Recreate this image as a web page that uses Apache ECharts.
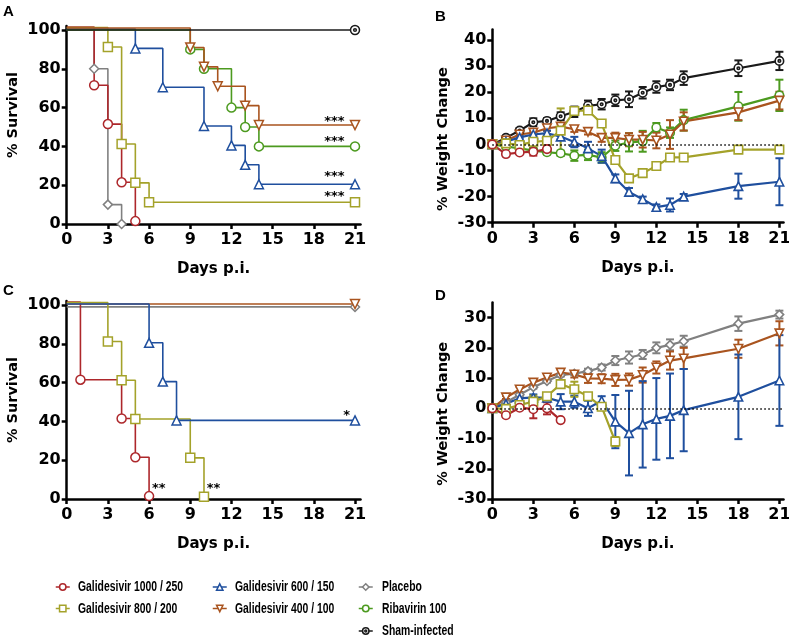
<!DOCTYPE html>
<html><head><meta charset="utf-8">
<script src="https://cdn.jsdelivr.net/npm/echarts@6/dist/echarts.min.js"></script>
<style>html,body{margin:0;padding:0;background:#fff}#c{width:789px;height:639px}</style>
</head><body><div id="c"></div>
<script>
// ---------------- data ----------------
const seriesNames = ['Galidesivir 1000 / 250','Galidesivir 800 / 200','Galidesivir 600 / 150','Galidesivir 400 / 100','Placebo','Ribavirin 100','Sham-infected'];
const xTicks = [0,3,6,9,12,15,18,21];
const survTicks = [0,20,40,60,80,100];
const weightTicksB = [-30,-20,-10,0,10,20,30,40];
const weightTicksD = [-30,-20,-10,0,10,20,30];
const weightDays = [0,1,2,3,4,5,6,7,8,9,10,11,12,13,14,18,21];

// Panel A survival (days of event, % survival)
const aG1000Days = [0,2,3,4,5];            const aG1000Surv = [101.5,71.5,51.5,21.5,1.5];
const aG800Days  = [0,3,4,5,6,21];         const aG800Surv  = [101.2,91.2,41.2,21.2,11.2,11.2];
const aG600Days  = [0,5,7,10,12,13,14,21]; const aG600Surv  = [100.5,90.5,70.5,50.5,40.5,30.5,20.5,20.5];
const aG400Days  = [0,9,10,11,13,14,21];   const aG400Surv  = [101,91,81,71,61,51,51];
const aPlacDays  = [0,2,3,4];              const aPlacSurv  = [100,80,10,0];
const aRibaDays  = [0,9,10,12,13,14,21];   const aRibaSurv  = [100,90,80,60,50,40,40];
const aShamDays  = [0,21];                 const aShamSurv  = [100,100];

// Panel C survival
const cG1000Days = [0,1,4,5,6];            const cG1000Surv = [101.5,61.5,41.5,21.5,1.5];
const cG800Days  = [0,3,4,5,9,10];         const cG800Surv  = [101.2,81.2,61.2,41.2,21.2,1.2];
const cG600Days  = [0,6,7,8,21];           const cG600Surv  = [100.5,80.5,60.5,40.5,40.5];
const cG400Days  = [0,21];                 const cG400Surv  = [100.5,100.5];
const cPlacDays  = [0,21];                 const cPlacSurv  = [99,99];

// Panel B weight change (mean, error)
const bG1000 = [0,-3.7,-3.1,-2.8,-1.8];
const bG1000Err = [0,0.5,0.5,1.5,1.5];
const bG800 = [0,0.4,-0.2,1,1.4,5.3,12.8,13,8,-6,-13,-11,-8.3,-5,-5,-2,-2];
const bG800Err = [0,0.5,0.5,0.5,0.5,8.5,1,1,1,1,1,0.5,0.5,0.5,0.5,0.5,0.5];
const bG600 = [0,1,2.7,3.8,4.3,3,0.9,-1.5,-4.5,-13,-18.2,-21,-24,-23.2,-20,-16,-14.3];
const bG600Err = [0,0.5,0.5,1,1,1,2,2.5,2.5,1.5,1.5,1,1,2.5,1,4.8,9];
const bG400 = [0,1.5,3.8,4.5,6.2,6.8,5.8,4.8,2.5,2.5,1.8,1.8,1.5,3.8,8.8,12.3,16.8];
const bG400Err = [0,0.5,0.8,1,1,1,1,1,1.5,2,2.5,3,3,5.5,3.5,3,3.4];
const bRiba = [0,-0.8,-1.5,-2.4,-3,-3.4,-4.3,-4,-5,-0.5,0.8,1.2,6.5,4.5,9.3,14.6,18.8];
const bRibaErr = [0,0.5,0.5,0.8,0.8,1,2,2,2,2,3.5,4,1.7,2,4,5.5,6];
const bSham = [0,2.5,5.3,8.5,9,10.8,12.5,14.8,15.4,16.9,17.3,19.8,22,22.8,25.4,29.2,32];
const bShamErr = [0,0.8,1,1.5,1,1.5,2,2,2,2.2,3,2.2,2.2,2,2.6,3,3.5];

// Panel D weight change (mean, error)
const dG1000 = [0,-2.3,0.2,-0.3,0,-3.9];
const dG1000Err = [0,0.5,0.5,3,2,0.5];
const dG800 = [0,-0.2,1.1,2.2,4,8,6.3,4,0.5,-11];
const dG800Err = [0,0.5,0.8,2,1,1,2.5,1,1,1.5];
const dG600 = [0,1.5,3.3,3.6,3.5,2.2,2.2,0,2.5,-4.4,-8.2,-5.3,-3.5,-2.5,-0.6,3.8,9.2];
const dG600Err = [0,0.5,1,1,1,2.5,2,2.5,1.5,8.8,14,14.3,13.5,14,13.6,14,15];
const dG400 = [0,3.6,6.2,8.5,10.2,11.8,11.2,9.9,9.8,9.4,9.5,11,13.5,15.8,16.5,19.7,24.8];
const dG400Err = [0,0.5,0.8,1,1,1,1,1.5,1.5,2,2,2.5,2,3,3.5,3,4];
const dPlac = [0,2,4.5,7,9,11,11.5,12.3,13.5,15.8,16.8,17.8,20,21,22.2,28,31];
const dPlacErr = [0,0.5,0.5,0.5,0.5,0.5,0.5,0.8,1,1.5,2,1.5,1.8,1.8,1.8,2.4,1.3];

// ---------------- styles ----------------
const shamPath = 'path://M0,10a10,10 0 1,0 20,0a10,10 0 1,0 -20,0M7,10a3,3 0 1,0 6,0a3,3 0 1,0 -6,0';
const styleOf = {
  'Galidesivir 1000 / 250': {color:'#AD272B', symbol:'circle', rot:0},
  'Galidesivir 800 / 200':  {color:'#A4A22A', symbol:'rect', rot:0},
  'Galidesivir 600 / 150':  {color:'#1F4F9E', symbol:'triangle', rot:0},
  'Galidesivir 400 / 100':  {color:'#A9541F', symbol:'triangle', rot:180},
  'Placebo':                {color:'#808080', symbol:'diamond', rot:0},
  'Ribavirin 100':          {color:'#4C9A1F', symbol:'circle', rot:0},
  'Sham-infected':          {color:'#1A1A1A', symbol:shamPath, rot:0}
};
const tickFont = "'DejaVu Sans', sans-serif";
const titleFont = "'DejaVu Sans', sans-serif";

function survSeries(name, days, surv, gi) {
  const s = styleOf[name];
  return {
    type:'line', name, xAxisIndex:gi, yAxisIndex:gi, step:'end', z:3,
    symbol:s.symbol, symbolRotate:s.rot, symbolSize:9, showAllSymbol:true,
    itemStyle:{color:'#fff', borderColor:s.color, borderWidth:1.5},
    lineStyle:{color:s.color, width:1.6},
    emphasis:{disabled:true},
    data: days.map((d,i)=> i===0 ? {value:[d,surv[i]], symbol:'none'} : [d,surv[i]])
  };
}
function weightSeries(name, vals, gi) {
  const s = styleOf[name];
  return {
    type:'line', name, xAxisIndex:gi, yAxisIndex:gi, z:3,
    symbol:s.symbol, symbolRotate:s.rot, symbolSize:8.5, showAllSymbol:true,
    itemStyle:{color:'#fff', borderColor:s.color, borderWidth:1.6},
    lineStyle:{color:s.color, width:2.2},
    emphasis:{disabled:true},
    data: vals.map((v,i)=>[weightDays[i], v])
  };
}
function errSeries(name, vals, errs, gi) {
  const col = styleOf[name].color;
  return {
    type:'custom', name, xAxisIndex:gi, yAxisIndex:gi, z:2, silent:true,
    encode:{x:0, y:[1,2]},
    data: vals.map((v,i)=>[weightDays[i], v-errs[i], v+errs[i]]),
    renderItem:(params, api)=>{
      const x=api.value(0), lo=api.value(1), hi=api.value(2);
      if (hi-lo < 0.05) return null;
      const t=api.coord([x,hi]), b=api.coord([x,lo]), w=4;
      const st={stroke:col, lineWidth:2};
      return {type:'group', children:[
        {type:'line', shape:{x1:t[0],y1:t[1],x2:b[0],y2:b[1]}, style:st},
        {type:'line', shape:{x1:t[0]-w,y1:t[1],x2:t[0]+w,y2:t[1]}, style:st},
        {type:'line', shape:{x1:b[0]-w,y1:b[1],x2:b[0]+w,y2:b[1]}, style:st}
      ]};
    }
  };
}
function annot(gi, items) {
  return {
    type:'scatter', xAxisIndex:gi, yAxisIndex:gi, data:[], silent:true, z:4,
    markPoint:{
      symbol:'circle', symbolSize:1, itemStyle:{color:'rgba(0,0,0,0)'},
      label:{show:true, position:'inside', color:'#000', fontFamily:titleFont, fontWeight:'bold', fontSize:13, formatter:p=>p.name},
      data: items.map(it=>({name:it[0], coord:[it[1], it[2]]}))
    }
  };
}
function zeroLine(gi) {
  return {
    type:'scatter', xAxisIndex:gi, yAxisIndex:gi, data:[], silent:true, z:1,
    markLine:{silent:true, symbol:['none','none'], label:{show:false},
      lineStyle:{type:[1.5,2.5], color:'#000', width:1.5}, emphasis:{disabled:true},
      data:[{yAxis:0}]}
  };
}

function xAxis(gi, max) {
  return {
    type:'value', gridIndex:gi, min:0, max,
    name:'Days p.i.', nameLocation:'middle', nameGap:38,
    nameTextStyle:{fontFamily:titleFont, fontWeight:'bold', fontSize:15, color:'#000'},
    axisLine:{show:true, onZero:false, lineStyle:{color:'#000', width:2.5}},
    axisTick:{show:true, length:5, customValues:xTicks, lineStyle:{color:'#000', width:2.5}},
    axisLabel:{customValues:xTicks, color:'#000', fontFamily:tickFont, fontWeight:'bold', fontSize:16, margin:8},
    splitLine:{show:false}
  };
}
function yAxis(gi, min, max, ticks, name, gap, pad) {
  return {
    type:'value', gridIndex:gi, min, max,
    name, nameLocation:'middle', nameGap:gap,
    nameTextStyle:{fontFamily:titleFont, fontWeight:'bold', fontSize:14.5, color:'#000', padding:pad},
    axisLine:{show:true, onZero:false, lineStyle:{color:'#000', width:2.5}},
    axisTick:{show:true, length:5, customValues:ticks, lineStyle:{color:'#000', width:2.5}},
    axisLabel:{customValues:ticks, color:'#000', fontFamily:tickFont, fontWeight:'bold', fontSize:16, margin:6},
    splitLine:{show:false}
  };
}

const N = seriesNames;
const series = [
  // Panel A
  survSeries(N[4], aPlacDays, aPlacSurv, 0),
  survSeries(N[0], aG1000Days, aG1000Surv, 0),
  survSeries(N[1], aG800Days, aG800Surv, 0),
  survSeries(N[2], aG600Days, aG600Surv, 0),
  survSeries(N[5], aRibaDays, aRibaSurv, 0),
  survSeries(N[3], aG400Days, aG400Surv, 0),
  survSeries(N[6], aShamDays, aShamSurv, 0),
  // Panel C
  survSeries(N[4], cPlacDays, cPlacSurv, 2),
  survSeries(N[3], cG400Days, cG400Surv, 2),
  survSeries(N[0], cG1000Days, cG1000Surv, 2),
  survSeries(N[1], cG800Days, cG800Surv, 2),
  survSeries(N[2], cG600Days, cG600Surv, 2),
  // Panel B
  weightSeries(N[6], bSham, 1), errSeries(N[6], bSham, bShamErr, 1),
  weightSeries(N[5], bRiba, 1), errSeries(N[5], bRiba, bRibaErr, 1),
  weightSeries(N[3], bG400, 1), errSeries(N[3], bG400, bG400Err, 1),
  weightSeries(N[2], bG600, 1), errSeries(N[2], bG600, bG600Err, 1),
  weightSeries(N[1], bG800, 1), errSeries(N[1], bG800, bG800Err, 1),
  weightSeries(N[0], bG1000, 1), errSeries(N[0], bG1000, bG1000Err, 1),
  // Panel D
  weightSeries(N[4], dPlac, 3), errSeries(N[4], dPlac, dPlacErr, 3),
  weightSeries(N[3], dG400, 3), errSeries(N[3], dG400, dG400Err, 3),
  weightSeries(N[2], dG600, 3), errSeries(N[2], dG600, dG600Err, 3),
  weightSeries(N[1], dG800, 3), errSeries(N[1], dG800, dG800Err, 3),
  weightSeries(N[0], dG1000, 3), errSeries(N[0], dG1000, dG1000Err, 3),
  zeroLine(1), zeroLine(3),
  annot(0, [['***',19.5,53],['***',19.5,42.3],['***',19.5,24.2],['***',19.5,13.9]]),
  annot(2, [['**',6.7,5.4],['**',10.7,5.4],['*',20.4,43]])
];

// legend layout: [name index, icon left, row center y, text x]
const legendSlots = [[0,55,587,78],[1,55,608.5,78],[2,212,587,235],[3,212,608.5,235],[4,358,587,382],[5,358,608.5,382],[6,358,631,382]];
const legends = legendSlots.map(s=>({
  data:[N[s[0]]], left:s[1], top:s[2]-4, padding:0, itemWidth:14, itemHeight:8,
  selectedMode:false, formatter:()=>'', textStyle:{fontSize:8},
  lineStyle:{width:1.5}, itemStyle:{borderWidth:1.5}
}));
const legendTexts = legendSlots.map(s=>({
  type:'text', x:s[3], y:s[2], scaleX:0.67, silent:true,
  style:{text:N[s[0]], font:"bold 15.5px 'Liberation Sans', Arial, sans-serif", fill:'#000', verticalAlign:'middle', align:'left'}
}));

const option = {
  backgroundColor:'#fff',
  animation:false,
  grid:[
    {left:66.7, top:26.1, width:293.8, height:197.9, outerBoundsMode:'none'},
    {left:492.3, top:29.6, width:291.2, height:193.1, outerBoundsMode:'none'},
    {left:66.7, top:301.1, width:293.8, height:197.9, outerBoundsMode:'none'},
    {left:492.3, top:302.5, width:291.2, height:196.5, outerBoundsMode:'none'}
  ],
  xAxis:[xAxis(0,21.4), xAxis(1,21.3), xAxis(2,21.4), xAxis(3,21.3)],
  yAxis:[
    yAxis(0,0,102,survTicks,'% Survival',46,[0,0,0,20]),
    yAxis(1,-30,44,weightTicksB,'% Weight Change',42,[0,26,0,0]),
    yAxis(2,0,102,survTicks,'% Survival',46,[0,0,0,0]),
    yAxis(3,-30,35,weightTicksD,'% Weight Change',42,[0,26,0,0])
  ],
  legend: legends,
  graphic:[
    {type:'text', left:3, top:4, style:{text:'A', font:"bold 15px 'Liberation Sans'", fill:'#000'}},
    {type:'text', left:435, top:9, style:{text:'B', font:"bold 15px 'Liberation Sans'", fill:'#000'}},
    {type:'text', left:3, top:283, style:{text:'C', font:"bold 15px 'Liberation Sans'", fill:'#000'}},
    {type:'text', left:435, top:288, style:{text:'D', font:"bold 15px 'Liberation Sans'", fill:'#000'}}
  ].concat(legendTexts),
  series
};
const chart = echarts.init(document.getElementById('c'), null, {renderer:'canvas'});
chart.setOption(option);
</script>
</body></html>
